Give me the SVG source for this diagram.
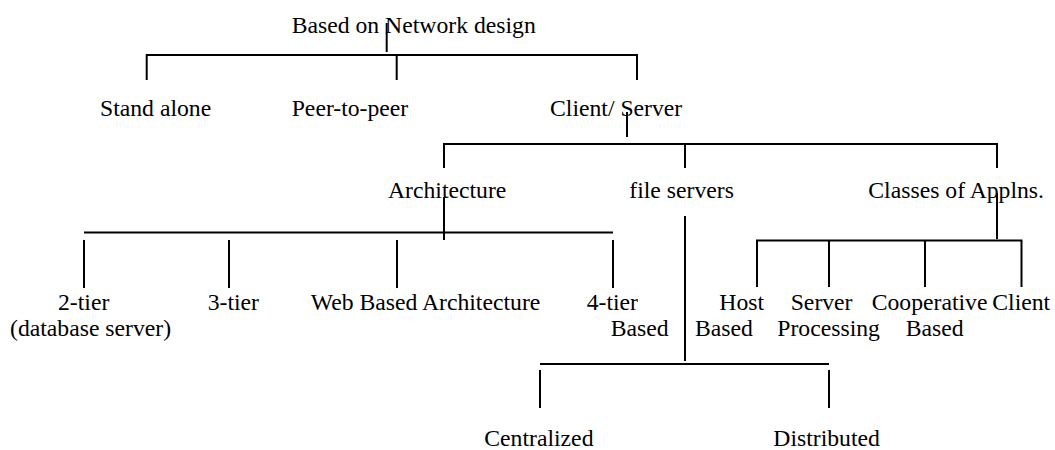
<svg xmlns="http://www.w3.org/2000/svg" width="1055" height="450" viewBox="0 0 1055 450">
  <style>
    text { font-family: "Liberation Serif", "Times New Roman", serif; font-size: 23.7px; fill: #000; }
    .ln { stroke: #000; stroke-width: 2; fill: none; }
  </style>
  <rect width="1055" height="450" fill="#fff"/>

  <!-- tree connectors -->
  <g id="connectors" class="ln">
    <!-- root -->
    <path d="M386.7 23 V52"/>
    <path d="M146.7 80 V55 H637 V80 M396.7 55 V80"/>
    <!-- client / server -->
    <path d="M627 112 V137"/>
    <path d="M444 168 V144 H997 V168 M685 144 V168"/>
    <!-- architecture -->
    <path d="M444 197 V240"/>
    <path d="M84 232.5 H613"/>
    <path d="M84 240 V288 M229 240 V288 M397 240 V288 M613 240 V288"/>
    <!-- file servers -->
    <path d="M685 216 V361"/>
    <path d="M540 364 H829"/>
    <path d="M540 370 V408 M829 370 V408"/>
    <!-- classes of applications -->
    <path d="M997 193 V239"/>
    <path d="M757 287 V240.5 H1021.5 V287 M829 240.5 V287 M925 240.5 V287"/>
  </g>

  <g id="root"><text x="291.7" y="33">Based on Network design</text></g>
  <g id="stand-alone"><text x="100" y="116">Stand alone</text></g>
  <g id="peer-to-peer"><text x="291.7" y="116">Peer-to-peer</text></g>
  <g id="client-server"><text x="550" y="116">Client/ Server</text></g>

  <g id="architecture"><text x="388" y="198">Architecture</text></g>
  <g id="file-servers"><text x="629.3" y="198">file servers</text></g>
  <g id="classes"><text x="868.3" y="198">Classes of Applns.</text></g>

  <g id="tier2"><text x="58" y="310">2-tier</text><text x="10" y="336">(database server)</text></g>
  <g id="tier3"><text x="207.7" y="310">3-tier</text></g>
  <g id="web-based"><text x="310.7" y="310">Web Based Architecture</text></g>
  <g id="tier4"><text x="586.7" y="310">4-tier</text><text x="610.7" y="336">Based</text></g>

  <g id="host-based"><text x="719.3" y="310">Host</text><text x="695" y="336">Based</text></g>
  <g id="server-processing"><text x="790.7" y="310">Server</text><text x="777.3" y="336">Processing</text></g>
  <g id="cooperative-based"><text x="871.7" y="310">Cooperative</text><text x="905.7" y="336">Based</text></g>
  <g id="client"><text x="992.3" y="310">Client</text></g>

  <g id="centralized"><text x="484.3" y="446">Centralized</text></g>
  <g id="distributed"><text x="773.3" y="446">Distributed</text></g>
</svg>
